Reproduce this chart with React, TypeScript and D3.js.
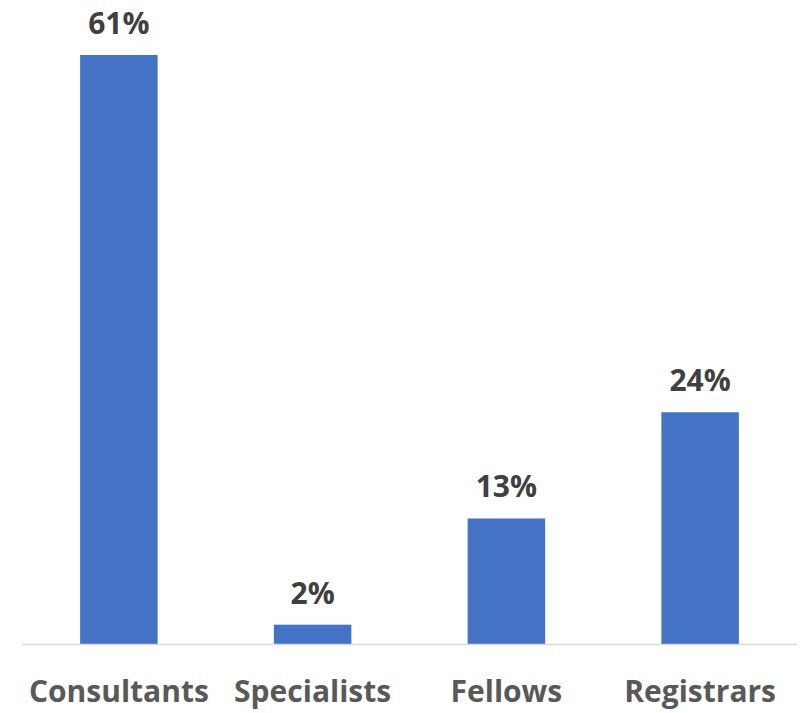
import React, { useRef, useEffect } from "react";
import * as d3 from "d3";

const categories = ["Consultants", "Specialists", "Fellows", "Registrars"];
const values = [61, 2, 13, 24];

const App: React.FC = () => {
  const chartRef = useRef<SVGSVGElement | null>(null);

  useEffect(() => {
    if (!chartRef.current) return;
    const svg = d3.select(chartRef.current);
    svg.selectAll("*").remove();

    const width = 803;
    const height = 713;
    const baseline = 644;

    const x = d3
      .scaleBand()
      .domain(categories)
      .range([22, 797])
      .paddingInner(0.6)
      .paddingOuter(0.3);

    const y = d3.scaleLinear().domain([0, 61]).range([baseline, 55]);

    const data = categories.map((c, i) => ({ name: c, value: values[i] }));

    // bars
    svg
      .selectAll(".bar")
      .data(data)
      .enter()
      .append("rect")
      .attr("class", "bar")
      .attr("x", (d) => x(d.name)!)
      .attr("y", (d) => y(d.value))
      .attr("width", x.bandwidth())
      .attr("height", (d) => y(0) - y(d.value))
      .attr("fill", "#4472C4");

    // baseline
    svg
      .append("line")
      .attr("x1", 22)
      .attr("x2", 797)
      .attr("y1", baseline + 0.5)
      .attr("y2", baseline + 0.5)
      .attr("stroke", "#D9D9D9")
      .attr("stroke-width", 1.5);

    // value labels
    svg
      .selectAll(".label")
      .data(data)
      .enter()
      .append("text")
      .attr("class", "label")
      .attr("x", (d) => x(d.name)! + x.bandwidth() / 2)
      .attr("y", (d) => y(d.value) - 21)
      .attr("text-anchor", "middle")
      .style("font-family", "'Open Sans', sans-serif")
      .style("font-weight", "bold")
      .style("font-size", "30px")
      .style("fill", "#404040")
      .text((d) => `${d.value}%`);

    // category labels
    svg
      .selectAll(".cat")
      .data(data)
      .enter()
      .append("text")
      .attr("class", "cat")
      .attr("x", (d) => x(d.name)! + x.bandwidth() / 2)
      .attr("y", 702)
      .attr("text-anchor", "middle")
      .style("font-family", "'Open Sans', sans-serif")
      .style("font-weight", "bold")
      .style("font-size", "30px")
      .style("fill", "#595959")
      .text((d) => d.name);

    svg.attr("width", width).attr("height", height);
  }, []);

  return (
    <svg
      ref={chartRef}
      width={803}
      height={713}
      style={{ position: "absolute", left: 0, top: 0, background: "#fff" }}
    ></svg>
  );
};

export default App;
